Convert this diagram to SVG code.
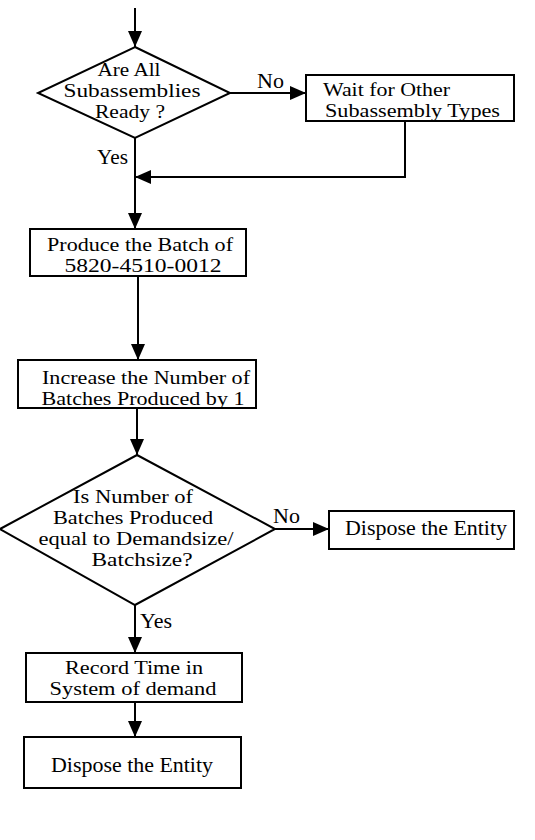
<svg xmlns="http://www.w3.org/2000/svg" width="535" height="840" viewBox="0 0 535 840">
<style>
.s{fill:#fff;stroke:#000;stroke-width:2}
.t{font-family:"Liberation Serif","Times New Roman",serif;font-size:22px;fill:#000}
.l{font-family:"Liberation Serif","Times New Roman",serif;font-size:19px;fill:#000}
.m{text-anchor:middle}
.c{fill:none;stroke:#000;stroke-width:2}
</style>
<defs>
<marker id="ah" markerUnits="userSpaceOnUse" markerWidth="17" markerHeight="14" refX="16" refY="7" orient="auto">
<path d="M0,0 L16,7 L0,14 z" fill="#000"/>
</marker>
</defs>
<rect width="535" height="840" fill="#fff"/>
<g id="connectors">
<path class="c" d="M135,8 V47" marker-end="url(#ah)"/>
<path class="c" d="M230,93 H306" marker-end="url(#ah)"/>
<path class="c" d="M405,121 V177 H135" marker-end="url(#ah)"/>
<path class="c" d="M135,138 V229" marker-end="url(#ah)"/>
<path class="c" d="M138,276 V360" marker-end="url(#ah)"/>
<path class="c" d="M137,408 V455" marker-end="url(#ah)"/>
<path class="c" d="M275,529 H329" marker-end="url(#ah)"/>
<path class="c" d="M135,605 V653" marker-end="url(#ah)"/>
<path class="c" d="M135,702 V737" marker-end="url(#ah)"/>
<text class="t" x="257" y="88">No</text>
<text class="t" x="97" y="164" textLength="31" lengthAdjust="spacingAndGlyphs">Yes</text>
<text class="t" x="273" y="523">No</text>
<text class="t" x="140" y="628" textLength="32" lengthAdjust="spacingAndGlyphs">Yes</text>
</g>
<g id="d1">
<polygon class="s" points="135,47 230,93 135,138 38,93"/>
<text class="l m" x="129" y="76" textLength="63" lengthAdjust="spacingAndGlyphs">Are All</text>
<text class="l m" x="132" y="97" textLength="137" lengthAdjust="spacingAndGlyphs">Subassemblies</text>
<text class="l m" x="130" y="118" textLength="70" lengthAdjust="spacingAndGlyphs">Ready ?</text>
</g>
<g id="wait">
<rect class="s" x="306" y="75" width="208" height="46"/>
<text class="l" x="323" y="96" textLength="127" lengthAdjust="spacingAndGlyphs">Wait for Other</text>
<text class="l" x="325" y="117" textLength="175" lengthAdjust="spacingAndGlyphs">Subassembly Types</text>
</g>
<g id="produce">
<rect class="s" x="30" y="229" width="216" height="47"/>
<text class="l m" x="140" y="251" textLength="186" lengthAdjust="spacingAndGlyphs">Produce the Batch of</text>
<text class="l m" x="143" y="272" textLength="157" lengthAdjust="spacingAndGlyphs">5820-4510-0012</text>
</g>
<g id="increase">
<rect class="s" x="18" y="360" width="238" height="48"/>
<text class="l m" x="146" y="384" textLength="208" lengthAdjust="spacingAndGlyphs">Increase the Number of</text>
<text class="l m" x="143" y="405" textLength="203" lengthAdjust="spacingAndGlyphs">Batches Produced by 1</text>
</g>
<g id="d2">
<polygon class="s" points="137,455 275,529 135,605 0,529"/>
<text class="l m" x="133" y="503" textLength="120" lengthAdjust="spacingAndGlyphs">Is Number of</text>
<text class="l m" x="133" y="524" textLength="160" lengthAdjust="spacingAndGlyphs">Batches Produced</text>
<text class="l m" x="136" y="545" textLength="195" lengthAdjust="spacingAndGlyphs">equal to Demandsize/</text>
<text class="l m" x="142" y="566" textLength="101" lengthAdjust="spacingAndGlyphs">Batchsize?</text>
</g>
<g id="dispose1">
<rect class="s" x="329" y="511" width="185" height="38"/>
<text class="t" x="345" y="535" textLength="162" lengthAdjust="spacingAndGlyphs">Dispose the Entity</text>
</g>
<g id="record">
<rect class="s" x="26" y="653" width="216" height="49"/>
<text class="l m" x="134" y="674" textLength="138" lengthAdjust="spacingAndGlyphs">Record Time in</text>
<text class="l m" x="133" y="695" textLength="167" lengthAdjust="spacingAndGlyphs">System of demand</text>
</g>
<g id="dispose2">
<rect class="s" x="24" y="737" width="217" height="51"/>
<text class="t m" x="132" y="772" textLength="162" lengthAdjust="spacingAndGlyphs">Dispose the Entity</text>
</g>
</svg>
